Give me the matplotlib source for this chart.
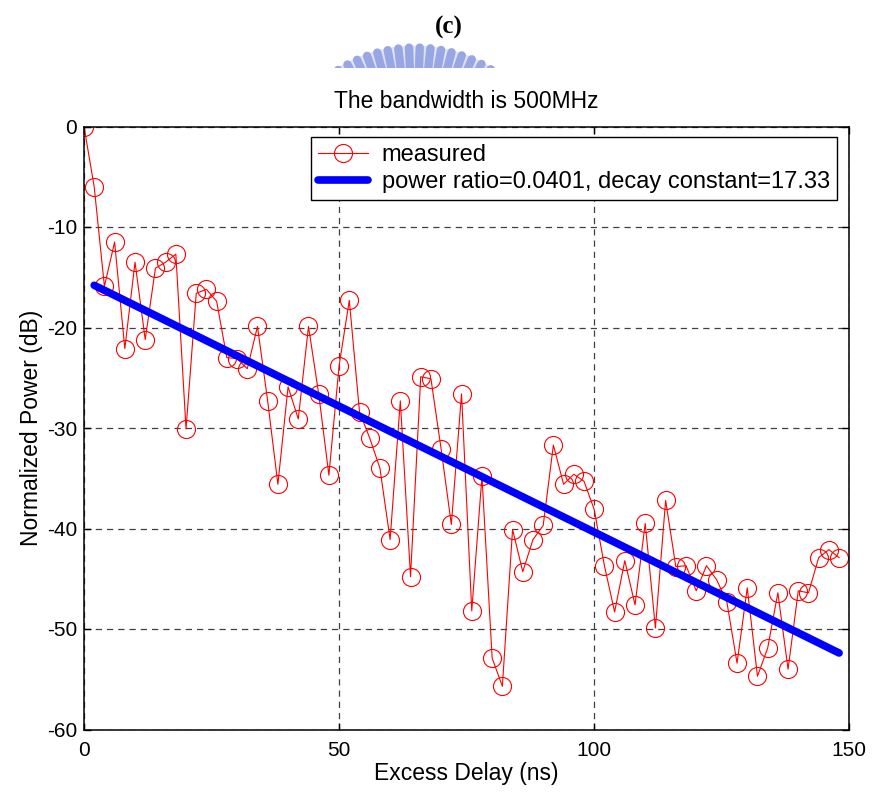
import matplotlib.pyplot as plt
import numpy as np
from matplotlib.patches import Rectangle

# measured power delay profile, one sample every 2 ns
delay_ns = np.arange(0, 150, 2)
power_db = [0.0, -6.0, -15.9, -11.5, -22.1, -13.5, -21.2, -14.1, -13.5, -12.7,
            -30.1, -16.6, -16.2, -17.4, -23.0, -23.1, -24.1, -19.9, -27.3, -35.6,
            -25.9, -29.1, -19.9, -26.6, -34.7, -23.8, -17.3, -28.4, -31.0, -34.0,
            -41.1, -27.3, -44.8, -24.9, -25.1, -32.1, -39.6, -26.6, -48.2, -34.8,
            -52.9, -55.7, -40.1, -44.3, -41.1, -39.7, -31.7, -35.6, -34.6, -35.3,
            -38.1, -43.7, -48.3, -43.2, -47.6, -39.5, -49.9, -37.2, -43.8, -43.7,
            -46.2, -43.7, -45.1, -47.3, -53.4, -45.9, -54.7, -51.9, -46.4, -54.0,
            -46.2, -46.4, -42.9, -42.1, -42.9]

# exponential decay fit
power_ratio = 0.0401
decay_constant = 17.33
fit_start_ns = 2
fit_start_db = -15.8

fit_t = delay_ns[delay_ns >= fit_start_ns]
fit_db = fit_start_db - 10 * np.log10(np.e) * (fit_t - fit_start_ns) / decay_constant

plt.rcParams['font.family'] = ['Liberation Sans', 'DejaVu Sans']
plt.rcParams['axes.unicode_minus'] = False

W, H = 873, 796
fig = plt.figure(figsize=(W / 100, H / 100), dpi=100)

# faint logo band at the top of the page
bg = fig.add_axes([0, 0, 1, 1], zorder=-1)
bg.set_xlim(0, W)
bg.set_ylim(H, 0)
bg.axis('off')
clip = Rectangle((0, 0), W, 68, transform=bg.transData)
cx, cy, r_out = 415, 190.5, 145
th = np.radians(np.linspace(55, 125, 200))
band = bg.fill(np.r_[cx + r_out * np.cos(th), cx + 120 * np.cos(th[::-1])],
               np.r_[cy - r_out * np.sin(th), cy - 120 * np.sin(th[::-1])],
               color='#dde2f6', lw=0)[0]
band.set_clip_path(clip)
for a in np.radians(np.arange(58, 124, 4.3)):
    ln, = bg.plot([cx + 110 * np.cos(a), cx + (r_out - 2) * np.cos(a)],
                  [cy - 110 * np.sin(a), cy - (r_out - 2) * np.sin(a)],
                  color='#98a6e3', lw=6, solid_capstyle='round')
    ln.set_clip_path(clip)

fig.text(0.5 * (84 + 849) / W - 0.02, 1 - 27 / H, '(c)', ha='center', va='center',
         fontsize=18, fontweight='bold', family=['Liberation Serif', 'DejaVu Serif'])

ax = fig.add_axes([84 / W, 1 - 729.5 / H, (849.3 - 84) / W, (729.5 - 126.5) / H])

ax.plot(delay_ns, power_db, color='red', lw=0.8, marker='o', markersize=13,
        markerfacecolor='none', markeredgecolor='red', markeredgewidth=0.8,
        label='measured')
ax.plot(fit_t, fit_db, color='#0000ff', lw=5.5, solid_capstyle='round',
        label='power ratio=%.4f, decay constant=%.2f' % (power_ratio, decay_constant))

ax.set_xlim(0, 150)
ax.set_ylim(-60, 0)
ax.set_xticks([0, 50, 100, 150])
ax.set_yticks(np.arange(-60, 1, 10))
ax.grid(True, color='0.25', linestyle=(0, (5, 4)), linewidth=0.9)
ax.tick_params(direction='in', top=True, right=True, length=5, width=1,
               labelsize=15)
ax.tick_params(axis='x', pad=8)
ax.tick_params(axis='y', pad=5)
for s in ax.spines.values():
    s.set_linewidth(1.1)

ax.set_title('The bandwidth is 500MHz', fontsize=16.5, pad=13)
ax.set_xlabel('Excess Delay (ns)', fontsize=16.5, labelpad=2)
ax.set_ylabel('Normalized Power (dB)', fontsize=16.5, labelpad=3)

leg = ax.legend(loc='upper right', bbox_to_anchor=(837 / W, 1 - 137 / H),
                bbox_transform=fig.transFigure, borderaxespad=0, fancybox=False,
                edgecolor='black', framealpha=1, fontsize=17, handlelength=2.1,
                handletextpad=0.6, labelspacing=0.22, borderpad=0.3)
leg.get_frame().set_linewidth(1.0)

fig.savefig('out.png', dpi=100)
